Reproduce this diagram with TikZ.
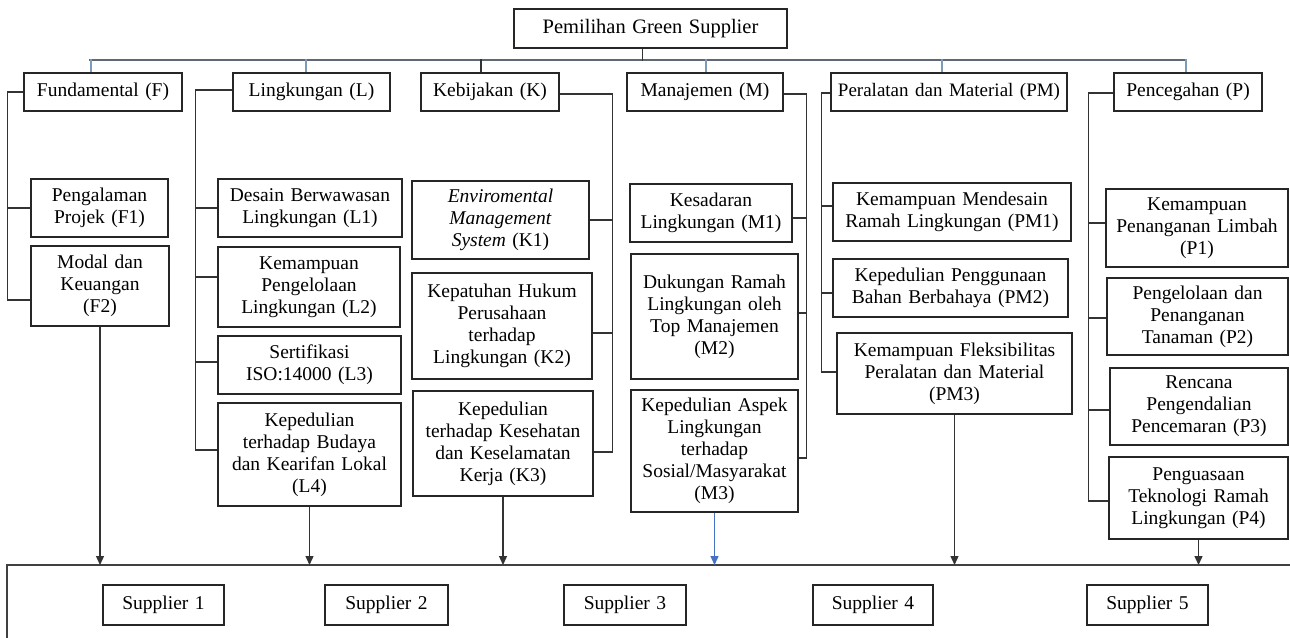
\documentclass[tikz,border=0pt]{standalone}
\usepackage{fontspec}
\setmainfont{Liberation Serif}
\usetikzlibrary{calc,arrows.meta}
\definecolor{busc}{RGB}{95,105,118}
\definecolor{tickc}{RGB}{125,155,185}
\definecolor{bluea}{RGB}{68,114,196}
\tikzset{
 box/.style={draw=black!85,line width=1.3pt,inner sep=0pt,align=center,font=\fontsize{19.5}{22}\selectfont},
 ln/.style={draw=black!80,line width=1.3pt},
 busline/.style={draw=busc,line width=1.6pt},
 tickline/.style={draw=tickc,line width=1.1pt},
 arr/.style={ln,-{Triangle[length=9pt,width=8pt]}},
}
\newcommand\mybox[6]{%
 \pgfmathsetmacro\myW{#4-#2}\pgfmathsetmacro\myH{#5-#3}%
 \pgfmathsetmacro\myX{(#2+#4)/2}\pgfmathsetmacro\myY{(#3+#5)/2}%
 \pgfmathsetmacro\myT{#4-#2-1}%
 \node[box,minimum width=\myW pt,minimum height=\myH pt,text width=\myT pt] (#1) at (\myX,\myY) {#6};}
\begin{document}
\begin{tikzpicture}[x=1pt,y=-1pt]
\useasboundingbox[fill=white] (0,0) rectangle (1290,637);

% top and categories
\mybox{T}{514}{9}{787}{48}{\fontsize{20.5}{22}\selectfont Pemilihan Green Supplier}
\mybox{F}{24}{73}{182}{111}{Fundamental (F)}
\mybox{L}{233}{73}{390}{111}{Lingkungan (L)}
\mybox{K}{421}{73}{559}{111}{Kebijakan (K)}
\mybox{M}{627}{73}{783}{111}{Manajemen (M)}
\mybox{PM}{831}{73}{1067}{111}{\fontsize{19}{22}\selectfont Peralatan dan Material (PM)}
\mybox{P}{1114}{73}{1262}{111}{Pencegahan (P)}

% sub-criteria
\mybox{F1}{31}{179}{168}{237}{Pengalaman\\Projek (F1)}
\mybox{F2}{31}{246}{169}{326}{Modal dan\\Keuangan\\(F2)}
\mybox{L1}{218}{179}{402}{237}{Desain Berwawasan\\Lingkungan (L1)}
\mybox{L2}{218}{247}{400}{327}{Kemampuan\\Pengelolaan\\Lingkungan (L2)}
\mybox{L3}{218}{336}{401}{394}{Sertifikasi\\ISO:14000 (L3)}
\mybox{L4}{218}{403}{401}{506}{Kepedulian\\terhadap Budaya\\dan Kearifan Lokal\\(L4)}
\mybox{K1}{412}{181}{589}{259}{\textit{Enviromental}\\\textit{Management}\\\textit{System} (K1)}
\mybox{K2}{412}{273}{592}{379}{Kepatuhan Hukum\\Perusahaan\\terhadap\\Lingkungan (K2)}
\mybox{K3}{413}{391}{593}{496}{Kepedulian\\terhadap Kesehatan\\dan Keselamatan\\Kerja (K3)}
\mybox{M1}{630}{184}{792}{242}{Kesadaran\\Lingkungan (M1)}
\mybox{M2}{631}{254}{798}{379}{Dukungan Ramah\\Lingkungan oleh\\Top Manajemen\\(M2)}
\mybox{M3}{631}{390}{798}{512}{Kepedulian Aspek\\Lingkungan\\terhadap\\Sosial/Masyarakat\\(M3)}
\mybox{PM1}{833}{183}{1071}{241}{Kemampuan Mendesain\\Ramah Lingkungan (PM1)}
\mybox{PM2}{833}{259}{1068}{317}{Kepedulian Penggunaan\\Bahan Berbahaya (PM2)}
\mybox{PM3}{837}{333}{1072}{414}{Kemampuan Fleksibilitas\\Peralatan dan Material\\(PM3)}
\mybox{P1}{1106}{189}{1288}{267}{Kemampuan\\Penanganan Limbah\\(P1)}
\mybox{P2}{1107}{278}{1288}{355}{Pengelolaan dan\\Penanganan\\Tanaman (P2)}
\mybox{P3}{1110}{368}{1288}{445}{Rencana\\Pengendalian\\Pencemaran (P3)}
\mybox{P4}{1109}{457}{1288}{539}{Penguasaan\\Teknologi Ramah\\Lingkungan (P4)}

% suppliers
\mybox{S1}{103}{585}{224}{625}{Supplier 1}
\mybox{S2}{325}{585}{448}{625}{Supplier 2}
\mybox{S3}{564}{585}{686}{625}{Supplier 3}
\mybox{S4}{813}{585}{933}{625}{Supplier 4}
\mybox{S5}{1087}{585}{1208}{625}{Supplier 5}

% bus
\coordinate (busL) at (89,60);
\coordinate (busR) at (1187,60);
\draw[busline] (busL) -- (busR);
\draw[ln] ($(T.south)+(-8,0)$) -- ($(T.south)+(-8,12)$);
\draw[tickline] ($(F.north)+(-12,0)$) -- ++(0,-13);
\draw[tickline] ($(L.north)+(-5.5,0)$) -- ++(0,-13);
\draw[ln] ($(K.north)+(-9,0)$) -- ++(0,-13);
\draw[tickline] ($(M.north)+(1,0)$) -- ++(0,-13);
\draw[tickline] ($(PM.north)+(-7,0)$) -- ++(0,-13);
\draw[tickline] ($(P.north)+(-2,0)$) -- ++(0,-13);

% F group
\draw[ln] (F.west) -| ($(F2.west)+(-23,14)$) -- ($(F2.west)+(0,14)$);
\draw[ln] (F1.west) -- ++(-23,0);
% L group
\draw[ln] ($(L.west)+(0,-2)$) -| ($(L4.west)+(-22,-4.5)$) -- ($(L4.west)+(0,-4.5)$);
\draw[ln] (L1.west) -- ++(-22,0);
\draw[ln] ($(L2.west)+(0,-10)$) -- ++(-22,0);
\draw[ln] ($(L3.west)+(0,-3)$) -- ++(-22,0);
% K group
\draw[ln] ($(K.east)+(0,2)$) -| ($(K3.east)+(19,8.5)$) -- ($(K3.east)+(0,8.5)$);
\draw[ln] (K1.east) -- ++(23,0);
\draw[ln] ($(K2.east)+(0,7)$) -- ++(20,0);
% M group
\draw[ln] ($(M.east)+(0,2)$) -| ($(M3.east)+(8,7)$) -- ($(M3.east)+(0,7)$);
\draw[ln] ($(M1.east)+(0,5)$) -- ++(14,0);
\draw[ln] ($(M2.east)+(0,-3.5)$) -- ++(8,0);
% PM group
\draw[ln] ($(PM.west)+(0,1)$) -| ($(PM3.west)+(-15,-1.5)$) -- ($(PM3.west)+(0,-1.5)$);
\draw[ln] ($(PM1.west)+(0,-6)$) -- ++(-11,0);
\draw[ln] ($(PM2.west)+(0,5)$) -- ++(-11,0);
% P group
\draw[ln] ($(P.west)+(0,1)$) -| ($(P4.west)+(-20,3)$) -- ($(P4.west)+(0,3)$);
\draw[ln] ($(P1.west)+(0,-5)$) -- ++(-17,0);
\draw[ln] ($(P2.west)+(0,1.5)$) -- ++(-18,0);
\draw[ln] ($(P3.west)+(0,3.5)$) -- ++(-21,0);

% bottom frame
\coordinate (frBL) at (7,660);
\coordinate (frTR) at (1300,565);
\draw[draw=black!75,line width=1.7pt] (frBL) |- (frTR);
\coordinate (bot) at (0,565);

% arrows
\draw[arr] (F2.south) -- (F2.south |- bot);
\draw[arr] (L4.south) -- (L4.south |- bot);
\draw[arr] (K3.south) -- (K3.south |- bot);
\draw[arr,draw=bluea,fill=bluea] (M3.south) -- (M3.south |- bot);
\draw[arr] (PM3.south) -- (PM3.south |- bot);
\draw[arr] (P4.south) -- (P4.south |- bot);
\end{tikzpicture}
\end{document}
